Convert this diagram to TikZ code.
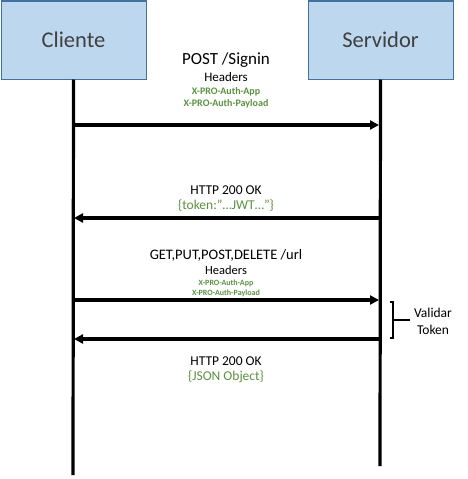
\documentclass[tikz,border=0pt]{standalone}
\usepackage{fontspec}
\setmainfont{Carlito}
\usetikzlibrary{arrows.meta}
\definecolor{boxfill}{HTML}{BDD7EE}
\definecolor{boxline}{HTML}{41719C}
\definecolor{grn}{HTML}{5B9140}
\definecolor{txt}{HTML}{404040}
\tikzset{
  actor/.style={draw=boxline, fill=boxfill, line width=1pt, minimum width=145pt, minimum height=78pt, inner sep=0pt, font=\fontsize{22.5}{26}\selectfont, text=txt},
  life/.style={line width=3.2pt},
  msg/.style={line width=3.2pt, -{Triangle[length=9pt,width=9pt]}, shorten >=1pt},
  lbl/.style={align=center, inner sep=0pt}
}
\begin{document}
\begin{tikzpicture}[x=1pt,y=-1pt]
\useasboundingbox (0,0) rectangle (467,479);
\node[actor, anchor=north west] (cli) at (0.5,0.5) {Cliente};
\node[actor, anchor=north west] (srv) at (307.5,0.5) {Servidor};
\coordinate (cb) at (73,475);
\coordinate (sb) at (380,466);
\draw[life] (cli.south) -- (cb);
\draw[life] (srv.south) -- (sb);
\coordinate (c1) at (73,125); \coordinate (s1) at (380,125);
\coordinate (c2) at (73,218); \coordinate (s2) at (380,218);
\coordinate (c3) at (73,300); \coordinate (s3) at (380,300);
\coordinate (c4) at (73,339); \coordinate (s4) at (380,339);
\draw[msg] (c1) -- (s1);
\draw[msg] (s2) -- (c2);
\draw[msg] (c3) -- (s3);
\draw[msg] (s4) -- (c4);
% labels
\node[lbl, font=\fontsize{17}{20}\selectfont] (t1) at (226,60) {POST /Signin};
\node[lbl, font=\fontsize{13}{15}\selectfont] (t1h) at (226,77.5) {Headers};
\node[lbl, font=\bfseries\fontsize{10}{12.5}\selectfont, text=grn] (t1g) at (226,98) {X-PRO-Auth-App\\X-PRO-Auth-Payload};
\node[lbl, font=\fontsize{13.5}{15}\selectfont] (t2) at (226,190) {HTTP 200 OK};
\node[lbl, font=\fontsize{13.5}{15}\selectfont, text=grn] (t2g) at (226,205.5) {\{token:”…JWT…”\}};
\node[lbl, font=\fontsize{14.5}{17}\selectfont] (t3) at (226,255) {GET,PUT,POST,DELETE /url};
\node[lbl, font=\fontsize{12.5}{15}\selectfont] (t3h) at (226,270) {Headers};
\node[lbl, font=\bfseries\fontsize{8}{10}\selectfont, text=grn] (t3g) at (226,288) {X-PRO-Auth-App\\X-PRO-Auth-Payload};
\node[lbl, font=\fontsize{13.5}{15}\selectfont] (t4) at (226,361) {HTTP 200 OK};
\node[lbl, font=\fontsize{13.5}{15}\selectfont, text=grn] (t4g) at (226,377) {\{JSON Object\}};
% bracket
\coordinate (bt) at (390,302);
\coordinate (bb) at (390,338);
\coordinate (bm) at (410,320);
\draw[line width=2pt] (bt) -- ++(3,0) -- (393,338) -- (bb);
\draw[line width=2pt] (393,320) -- (bm);
\node[lbl, font=\fontsize{13.5}{17}\selectfont] (val) at (433,321) {Validar\\Token};
\end{tikzpicture}
\end{document}
